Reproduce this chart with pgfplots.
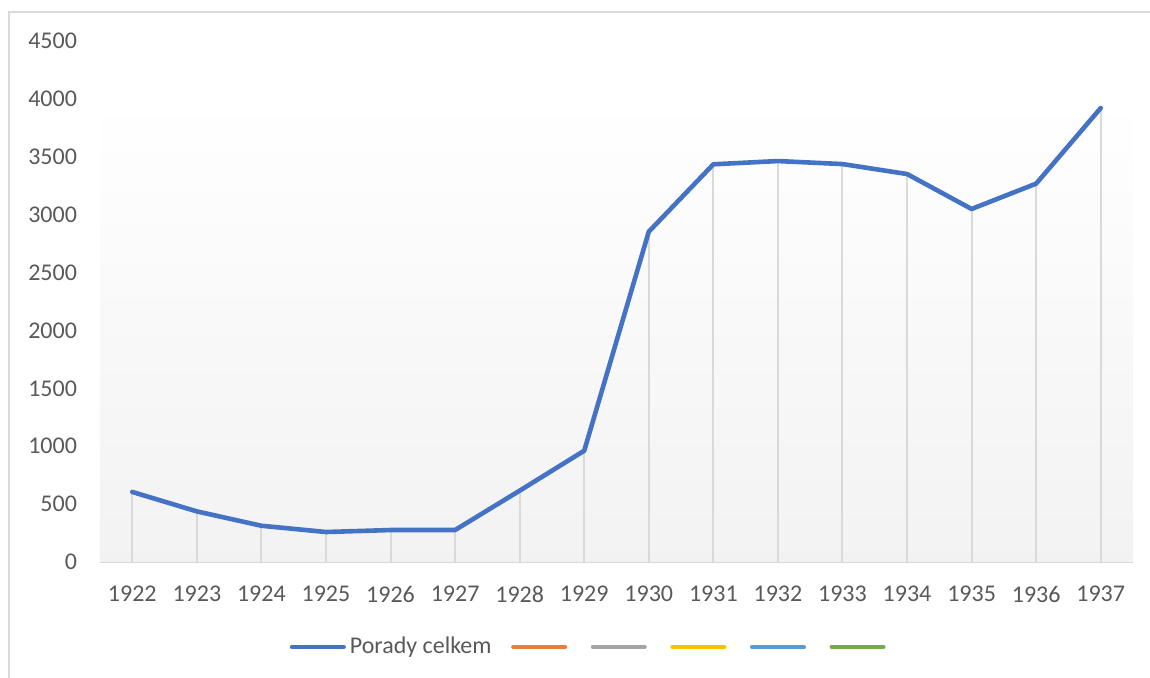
\documentclass[border=0pt]{standalone}
\usepackage{fontspec}
\setmainfont{Carlito}
\usepackage{pgfplots}
\pgfplotsset{compat=1.18}
\usepackage{pgfplotstable}

\definecolor{serblue}{HTML}{4472C4}
\definecolor{serorange}{HTML}{ED7D31}
\definecolor{sergray}{HTML}{A5A5A5}
\definecolor{seryellow}{HTML}{FFC000}
\definecolor{serlblue}{HTML}{5B9BD5}
\definecolor{sergreen}{HTML}{70AD47}
\definecolor{gridgray}{HTML}{D9D9D9}
\definecolor{txtgray}{HTML}{595959}

% Porady celkem per year (index 0 = 1922)
\pgfplotstableread{
x y
0 605
1 437
2 313
3 259
4 276
5 276
6 616
7 961
8 2853
9 3435
10 3463
11 3437
12 3351
13 3049
14 3268
15 3921
}\porady

\begin{document}
\begin{tikzpicture}
% 1 px of the reference = 0.5pt, origin at the axis' lower left corner
\useasboundingbox (-50pt,-58pt) rectangle (525pt,281pt);
\draw[gridgray, line width=1pt] (-45.5pt,-70pt) -- (-45.5pt,275pt) -- (540pt,275pt);
\begin{axis}[
    at={(0,0)}, anchor=south west,
    scale only axis,
    width=516.5pt, height=260.5pt,
    xmin=-0.5, xmax=15.5,
    ymin=0, ymax=4500,
    xtick={0,...,15},
    xticklabels={1922,1923,1924,1925,1926,1927,1928,1929,1930,1931,1932,1933,1934,1935,1936,1937},
    ytick={0,500,...,4500},
    major tick length=0pt,
    axis x line*=bottom,
    axis y line*=left,
    x axis line style={gridgray, line width=1pt, -},
    y axis line style={draw=none},
    tick label style={font=\fontsize{12}{14}\selectfont, text=txtgray},
    /pgf/number format/assume math mode=true,
    /pgf/number format/set thousands separator={},
    xticklabel style={yshift=-8.5pt},
    yticklabel style={xshift=-8pt},
    legend columns=6,
    legend style={
        at={(0.476,-0.163)}, anchor=center,
        draw=none, fill=none,
        font=\fontsize{12}{14}\selectfont, text=txtgray,
        /tikz/every odd column/.append style={column sep=0pt},
        /tikz/every even column/.append style={column sep=7.8pt},
        inner sep=0pt,
    },
    legend cell align=left,
    legend image code/.code={\draw[#1, line width=2pt, line cap=round] (0pt,0pt) -- (26pt,0pt);},
]
\shade[top color=white, bottom color=black!5, draw=none]
    (axis cs:-0.5,0) rectangle (axis cs:15.5,4000);
\addplot[ycomb, gridgray, line width=1pt, no marks, forget plot] table[x=x, y=y] {\porady};
\addplot[serblue, line width=2.3pt, line join=round, line cap=round, no marks] table[x=x, y=y] {\porady};
\addlegendentry{Porady celkem}
\addlegendimage{serorange}
\addlegendentry{}
\addlegendimage{sergray}
\addlegendentry{}
\addlegendimage{seryellow}
\addlegendentry{}
\addlegendimage{serlblue}
\addlegendentry{}
\addlegendimage{sergreen}
\addlegendentry{}
\end{axis}
\end{tikzpicture}
\end{document}
